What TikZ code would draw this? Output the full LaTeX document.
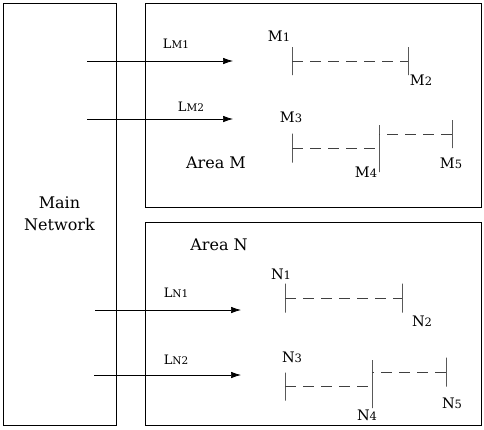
\documentclass[tikz,border=0pt]{standalone}
\usepackage{amsmath}
\usepackage{fontspec}
\setmainfont{DejaVu Serif}
\usetikzlibrary{arrows.meta}

\newcommand{\bigsub}[2]{#1{\fontsize{11.5}{12}\selectfont #2}}
\newcommand{\linesub}[2]{{\fontsize{13}{14}\selectfont #1}{\fontsize{10.5}{12}\selectfont #2}}

\begin{document}
\begin{tikzpicture}[x=1pt,y=-1pt,
        area/.style={shape=rectangle,draw=black,line width=0.8pt,inner sep=0pt},
        txt/.style={inner sep=0pt,font=\fontsize{16}{22}\selectfont},
        term/.style={inner sep=0pt,font=\fontsize{14.5}{18}\selectfont},
        feed/.style={-{Latex[length=10pt,width=6.5pt]},line width=0.7pt},
        tick/.style={shape=rectangle,draw=black,line width=0.7pt,inner sep=0pt,minimum width=0pt},
        bus/.style={draw=black!75,line width=0.7pt,dash pattern=on 11pt off 7pt}]
                \useasboundingbox (0,0) rectangle (484,429);

                % boxes
                \node[area,minimum width=113pt,minimum height=422pt,align=center,txt] (main) at (59.5,214) {Main\\Network};
                \node[area,minimum width=336pt,minimum height=204pt] (areaM) at (313,105) {};
                \node[area,minimum width=336pt,minimum height=203pt] (areaN) at (313,323.5) {};
                \node[txt] (nameM) at (216,163) {Area M};
                \node[txt] (nameN) at (219,245) {Area N};

                % feeders
                \coordinate (lm1s) at (87,61);
                \coordinate (lm1e) at (233,61);
                \coordinate (lm2s) at (87,119);
                \coordinate (lm2e) at (233,119);
                \coordinate (ln1s) at (95,310);
                \coordinate (ln1e) at (241,310);
                \coordinate (ln2s) at (94,375);
                \coordinate (ln2e) at (241,375);
                \path [feed](lm1s) edge (lm1e);
                \path [feed](lm2s) edge (lm2e);
                \path [feed](ln1s) edge (ln1e);
                \path [feed](ln2s) edge (ln2e);
                \node[inner sep=0pt] (LM1) at (176,44) {\linesub{L}{M1}};
                \node[inner sep=0pt] (LM2) at (191,107) {\linesub{L}{M2}};
                \node[inner sep=0pt] (LN1) at (176,293) {\linesub{L}{N1}};
                \node[inner sep=0pt] (LN2) at (176,360) {\linesub{L}{N2}};

                % area M
                \node[tick,minimum height=28pt] (m1) at (292,61) {};
                \node[tick,minimum height=28pt] (m2) at (408,61) {};
                \node[tick,minimum height=29pt] (m3) at (292,148) {};
                \node[tick,minimum height=47pt] (m4) at (379,148.5) {};
                \node[tick,minimum height=28pt] (m5) at (452,134) {};
                \path [bus](m1) edge (m2);
                \path [bus](m3) edge (m3 -| m4);
                \path [bus](m5) edge (m5 -| m4);
                \node[term] (M1) at (279,36) {\bigsub{M}{1}};
                \node[term] (M2) at (421,80) {\bigsub{M}{2}};
                \node[term] (M3) at (291,117) {\bigsub{M}{3}};
                \node[term] (M4) at (366,172) {\bigsub{M}{4}};
                \node[term] (M5) at (451,163) {\bigsub{M}{5}};

                % area N
                \node[tick,minimum height=29pt] (n1) at (285,298) {};
                \node[tick,minimum height=29pt] (n2) at (402,298) {};
                \node[tick,minimum height=28pt] (n3) at (285,386.5) {};
                \node[tick,minimum height=48pt] (n4) at (372,384) {};
                \node[tick,minimum height=29pt] (n5) at (446,372) {};
                \path [bus](n1) edge (n2);
                \path [bus](n3) edge (n3 -| n4);
                \path [bus](n5) edge (n5 -| n4);
                \node[term] (N1) at (281,274) {\bigsub{N}{1}};
                \node[term] (N2) at (422,321) {\bigsub{N}{2}};
                \node[term] (N3) at (292,357) {\bigsub{N}{3}};
                \node[term] (N4) at (367,415) {\bigsub{N}{4}};
                \node[term] (N5) at (452,403) {\bigsub{N}{5}};
            \end{tikzpicture}
\end{document}
